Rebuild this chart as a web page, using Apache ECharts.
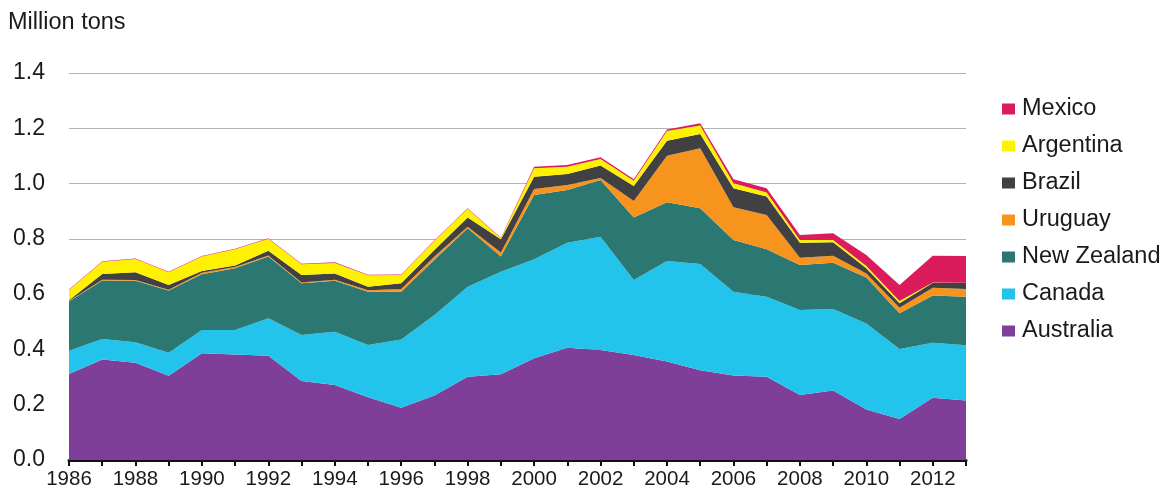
<!DOCTYPE html>
<html>
<head>
<meta charset="utf-8">
<script src="https://cdn.jsdelivr.net/npm/echarts@6/dist/echarts.min.js"></script>
<style>
html,body{margin:0;padding:0;background:#fff;}
#chart{width:1168px;height:492px;}
</style>
</head>
<body>
<div id="chart"></div>
<script>
const years = ['1986','1987','1988','1989','1990','1991','1992','1993','1994','1995','1996','1997','1998','1999','2000','2001','2002','2003','2004','2005','2006','2007','2008','2009','2010','2011','2012','2013'];
const yTicks = [0, 0.2, 0.4, 0.6, 0.8, 1.0, 1.2, 1.4];

const australia  = [0.311,0.364,0.352,0.305,0.386,0.382,0.377,0.286,0.271,0.227,0.189,0.233,0.301,0.310,0.368,0.406,0.398,0.380,0.356,0.325,0.306,0.301,0.235,0.251,0.183,0.148,0.225,0.215];
const canada     = [0.084,0.074,0.074,0.083,0.084,0.088,0.136,0.166,0.193,0.189,0.247,0.292,0.326,0.371,0.358,0.380,0.410,0.271,0.364,0.384,0.303,0.290,0.308,0.295,0.311,0.254,0.199,0.200];
const newZealand = [0.178,0.211,0.222,0.225,0.202,0.224,0.223,0.187,0.184,0.193,0.173,0.199,0.211,0.055,0.233,0.191,0.205,0.226,0.212,0.202,0.187,0.171,0.162,0.168,0.166,0.129,0.171,0.176];
const uruguay    = [0.002,0.003,0.003,0.003,0.005,0.004,0.004,0.003,0.004,0.005,0.010,0.012,0.006,0.015,0.021,0.018,0.007,0.060,0.169,0.217,0.118,0.124,0.027,0.025,0.015,0.020,0.028,0.028];
const brazil     = [0.003,0.021,0.028,0.017,0.007,0.006,0.017,0.027,0.023,0.013,0.020,0.024,0.033,0.048,0.045,0.040,0.045,0.054,0.054,0.051,0.069,0.067,0.054,0.049,0.019,0.016,0.018,0.022];
const argentina  = [0.037,0.044,0.048,0.046,0.052,0.058,0.043,0.039,0.038,0.041,0.030,0.033,0.032,0.003,0.030,0.026,0.024,0.019,0.035,0.031,0.018,0.015,0.010,0.008,0.008,0.008,0.001,0.000];
const mexico     = [0.002,0.002,0.002,0.002,0.002,0.002,0.002,0.002,0.002,0.002,0.002,0.002,0.002,0.002,0.006,0.006,0.006,0.006,0.006,0.008,0.015,0.015,0.018,0.024,0.040,0.058,0.097,0.097];

const seriesDefs = [
  {name:'Australia', data:australia, color:'#7f3f98'},
  {name:'Canada', data:canada, color:'#22c4ec'},
  {name:'New Zealand', data:newZealand, color:'#2a7871'},
  {name:'Uruguay', data:uruguay, color:'#f7941d'},
  {name:'Brazil', data:brazil, color:'#414042'},
  {name:'Argentina', data:argentina, color:'#fff200'},
  {name:'Mexico', data:mexico, color:'#da1c5c'}
];

const FONT = '"Liberation Sans", Arial, Helvetica, sans-serif';
const TXT = '#1a1a1a';

const chart = echarts.init(document.getElementById('chart'));
chart.setOption({
  animation: false,
  backgroundColor: '#fff',
  textStyle: {fontFamily: FONT, color: TXT},
  title: {
    text: 'Million tons',
    left: 3, top: 6,
    textStyle: {fontFamily: FONT, fontSize: 23.5, fontWeight: 'normal', color: TXT}
  },
  legend: {
    orient: 'vertical',
    left: 997, top: 92,
    itemWidth: 13, itemHeight: 11,
    itemGap: 13,
    icon: 'rect',
    data: ['Mexico','Argentina','Brazil','Uruguay','New Zealand','Canada','Australia'],
    textStyle: {fontFamily: FONT, fontSize: 23.5, color: TXT, lineHeight: 23, padding: [0,0,0,2]}
  },
  grid: {left: 69, right: 202, top: 73, bottom: 32, containLabel: false},
  xAxis: {
    type: 'category',
    data: years,
    boundaryGap: false,
    axisLine: {show: true, lineStyle: {color: '#111', width: 3}},
    axisTick: {show: true, interval: 0, length: 6, lineStyle: {color: '#111', width: 2}},
    axisLabel: {interval: 1, fontFamily: FONT, fontSize: 20.5, color: TXT, margin: 9},
    splitLine: {show: false}
  },
  yAxis: {
    type: 'value',
    min: yTicks[0], max: yTicks[yTicks.length-1], interval: 0.2,
    axisLine: {show: false},
    axisTick: {show: false},
    axisLabel: {fontFamily: FONT, fontSize: 23, color: TXT, margin: 24,
      formatter: v => v.toFixed(1)},
    splitLine: {show: true, lineStyle: {color: '#b3b3b3', width: 1.2}}
  },
  series: seriesDefs.map(s => ({
    name: s.name,
    type: 'line',
    stack: 'total',
    data: s.data,
    symbol: 'none',
    showSymbol: false,
    lineStyle: {width: 0},
    areaStyle: {color: s.color, opacity: 1},
    itemStyle: {color: s.color},
    emphasis: {disabled: true}
  }))
});
</script>
</body>
</html>
